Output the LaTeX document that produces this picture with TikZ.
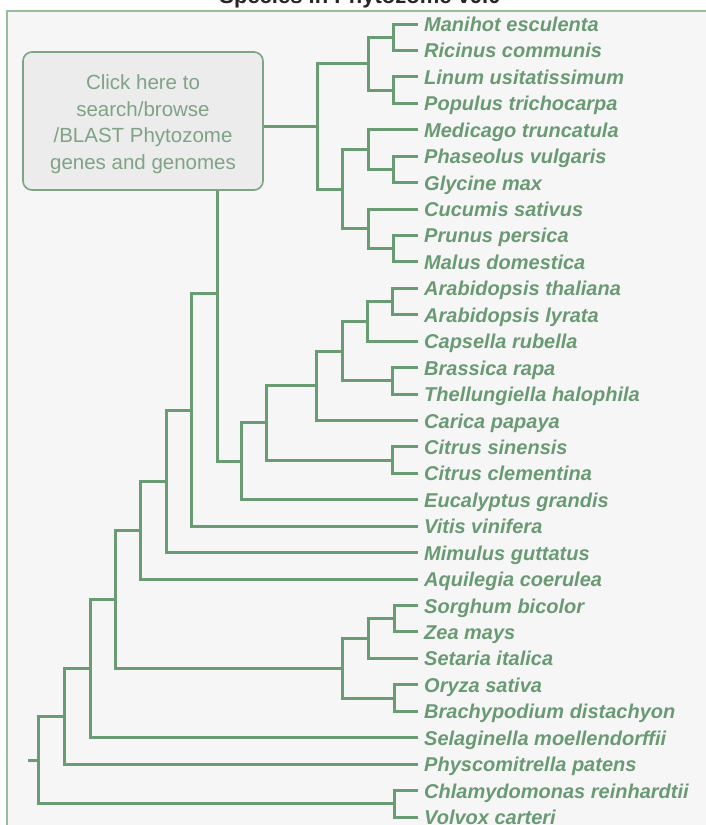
\documentclass[tikz,border=0pt]{standalone}
\usepackage{fontspec}
\setmainfont{Liberation Sans}
\definecolor{treeg}{RGB}{106,156,116}
\definecolor{leafg}{RGB}{106,154,116}
\definecolor{boxtxt}{RGB}{128,162,133}
\definecolor{boxfill}{RGB}{236,236,236}
\definecolor{boxline}{RGB}{125,165,132}
\definecolor{bgc}{RGB}{246,246,246}
\definecolor{framec}{RGB}{150,190,155}
\begin{document}
\begin{tikzpicture}[x=1pt,y=-1pt,
  tree/.style={draw=treeg,line width=3pt,line join=miter},
  leaf/.style={anchor=west,inner xsep=6pt,inner ysep=0pt,text height=15pt,text depth=0pt,
    font=\fontsize{20}{24}\selectfont\bfseries\itshape,text=leafg},
  linkbox/.style={draw=boxline,fill=boxfill,line width=1.6pt,rounded corners=9pt,
    minimum width=240pt,minimum height=138pt},
  linktext/.style={align=center,text=boxtxt,inner sep=0pt,
    font=\fontsize{20.5}{26.5}\selectfont}]
\useasboundingbox (0,0) rectangle (706,825);
\clip (0,0) rectangle (706,825);
\fill[white] (0,0) rectangle (706,825);
\fill[bgc] (7,11) rectangle (720,840);
\draw[framec,line width=2pt] (7,840) -- (7,11) -- (720,11);
\node[anchor=base,font=\fontsize{22}{26}\selectfont\bfseries,text=black!85] (title) at (360,3) {Species in Phytozome v9.0};

% leaves
\node[leaf] (l0) at (418,24) {Manihot esculenta};
\node[leaf] (l1) at (418,50.4) {Ricinus communis};
\node[leaf] (l2) at (418,76.9) {Linum usitatissimum};
\node[leaf] (l3) at (418,103.3) {Populus trichocarpa};
\node[leaf] (l4) at (418,129.7) {Medicago truncatula};
\node[leaf] (l5) at (418,156.2) {Phaseolus vulgaris};
\node[leaf] (l6) at (418,182.6) {Glycine max};
\node[leaf] (l7) at (418,209) {Cucumis sativus};
\node[leaf] (l8) at (418,235.4) {Prunus persica};
\node[leaf] (l9) at (418,261.9) {Malus domestica};
\node[leaf] (l10) at (418,288.3) {Arabidopsis thaliana};
\node[leaf] (l11) at (418,314.7) {Arabidopsis lyrata};
\node[leaf] (l12) at (418,341.2) {Capsella rubella};
\node[leaf] (l13) at (418,367.6) {Brassica rapa};
\node[leaf] (l14) at (418,394) {Thellungiella halophila};
\node[leaf] (l15) at (418,420.5) {Carica papaya};
\node[leaf] (l16) at (418,446.9) {Citrus sinensis};
\node[leaf] (l17) at (418,473.3) {Citrus clementina};
\node[leaf] (l18) at (418,499.7) {Eucalyptus grandis};
\node[leaf] (l19) at (418,526.2) {Vitis vinifera};
\node[leaf] (l20) at (418,552.6) {Mimulus guttatus};
\node[leaf] (l21) at (418,579) {Aquilegia coerulea};
\node[leaf] (l22) at (418,605.5) {Sorghum bicolor};
\node[leaf] (l23) at (418,631.9) {Zea mays};
\node[leaf] (l24) at (418,658.3) {Setaria italica};
\node[leaf] (l25) at (418,684.8) {Oryza sativa};
\node[leaf] (l26) at (418,711.2) {Brachypodium distachyon};
\node[leaf] (l27) at (418,737.6) {Selaginella moellendorffii};
\node[leaf] (l28) at (418,764) {Physcomitrella patens};
\node[leaf] (l29) at (418,790.5) {Chlamydomonas reinhardtii};
\node[leaf] (l30) at (418,817) {Volvox carteri};

% internal nodes
\coordinate (n1) at (393,37.2);
\coordinate (n2) at (393,90.1);
\coordinate (n3) at (368,63.65);
\coordinate (n4) at (393,169.4);
\coordinate (n5) at (368,149.55);
\coordinate (n6) at (393,248.65);
\coordinate (n7) at (368,228.8);
\coordinate (n8) at (342,189.2);
\coordinate (n9) at (317,126.4);
\coordinate (a1) at (392,301.5);
\coordinate (a2) at (367,321.35);
\coordinate (a3) at (392,380.8);
\coordinate (a4) at (342,351.1);
\coordinate (a5) at (316,385.8);
\coordinate (a6) at (392,460.1);
\coordinate (a7) at (266,422.95);
\coordinate (a8) at (241,461.3);
\coordinate (a9) at (217,293.85);
\coordinate (a10) at (191,410);
\coordinate (a11) at (166,481.3);
\coordinate (a12) at (140,530.15);
\coordinate (m1) at (394,618.7);
\coordinate (m2) at (368,638.5);
\coordinate (m3) at (394,698);
\coordinate (m4) at (342,668.25);
\coordinate (a13) at (115,599.2);
\coordinate (a14) at (90,668.4);
\coordinate (a15) at (64,716.2);
\coordinate (c1) at (394,803.75);
\coordinate (root) at (38,760);
\coordinate (stub) at (28,760);

% branches
\draw[tree] (n1) |- (l0.west);  \draw[tree] (n1) |- (l1.west);
\draw[tree] (n2) |- (l2.west);  \draw[tree] (n2) |- (l3.west);
\draw[tree] (n3) |- (n1);       \draw[tree] (n3) |- (n2);
\draw[tree] (n4) |- (l5.west);  \draw[tree] (n4) |- (l6.west);
\draw[tree] (n5) |- (l4.west);  \draw[tree] (n5) |- (n4);
\draw[tree] (n6) |- (l8.west);  \draw[tree] (n6) |- (l9.west);
\draw[tree] (n7) |- (l7.west);  \draw[tree] (n7) |- (n6);
\draw[tree] (n8) |- (n5);       \draw[tree] (n8) |- (n7);
\draw[tree] (n9) |- (n3);       \draw[tree] (n9) |- (n8);
\draw[tree] (a1) |- (l10.west); \draw[tree] (a1) |- (l11.west);
\draw[tree] (a2) |- (a1);       \draw[tree] (a2) |- (l12.west);
\draw[tree] (a3) |- (l13.west); \draw[tree] (a3) |- (l14.west);
\draw[tree] (a4) |- (a2);       \draw[tree] (a4) |- (a3);
\draw[tree] (a5) |- (a4);       \draw[tree] (a5) |- (l15.west);
\draw[tree] (a6) |- (l16.west); \draw[tree] (a6) |- (l17.west);
\draw[tree] (a7) |- (a5);       \draw[tree] (a7) |- (a6);
\draw[tree] (a8) |- (a7);       \draw[tree] (a8) |- (l18.west);
\draw[tree] (a9) |- (n9);       \draw[tree] (a9) |- (a8);
\draw[tree] (a10) |- (a9);      \draw[tree] (a10) |- (l19.west);
\draw[tree] (a11) |- (a10);     \draw[tree] (a11) |- (l20.west);
\draw[tree] (a12) |- (a11);     \draw[tree] (a12) |- (l21.west);
\draw[tree] (m1) |- (l22.west); \draw[tree] (m1) |- (l23.west);
\draw[tree] (m2) |- (m1);       \draw[tree] (m2) |- (l24.west);
\draw[tree] (m3) |- (l25.west); \draw[tree] (m3) |- (l26.west);
\draw[tree] (m4) |- (m2);       \draw[tree] (m4) |- (m3);
\draw[tree] (a13) |- (a12);     \draw[tree] (a13) |- (m4);
\draw[tree] (a14) |- (a13);     \draw[tree] (a14) |- (l27.west);
\draw[tree] (a15) |- (a14);     \draw[tree] (a15) |- (l28.west);
\draw[tree] (c1) |- (l29.west); \draw[tree] (c1) |- (l30.west);
\draw[tree] (root) |- (a15);    \draw[tree] (root) |- (c1);
\draw[tree] (stub) -- (root);

% link box
\node[linkbox] (box) at (143,121) {};
\node[linktext] (boxtext) at (143,124) {Click here to\\search/browse\\/BLAST Phytozome\\genes and genomes};
\end{tikzpicture}
\end{document}
